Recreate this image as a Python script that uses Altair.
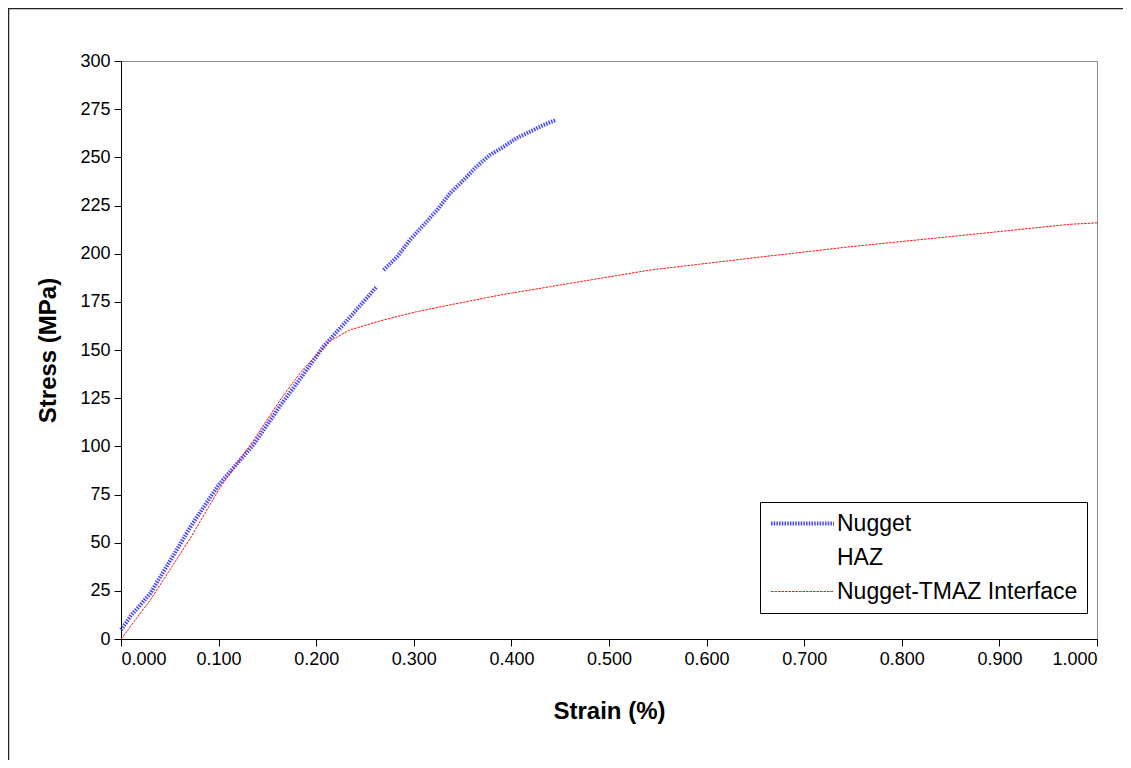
import altair as alt
import pandas as pd

series_names = ["Nugget", "HAZ", "Nugget-TMAZ Interface"]

# Nugget (two pieces, small gap near 0.265)
nugget_strain_a = [0.000, 0.010, 0.030, 0.057, 0.071, 0.100, 0.136, 0.163, 0.185, 0.207, 0.235, 0.262]
nugget_stress_a = [4.7, 12.0, 23.7, 46.2, 58.1, 80.0, 101.0, 121.0, 136.0, 151.5, 167.3, 182.9]
nugget_strain_b = [0.269, 0.283, 0.296, 0.310, 0.324, 0.337, 0.351, 0.364, 0.378, 0.392, 0.405, 0.419, 0.433, 0.446]
nugget_stress_b = [191.5, 198.4, 207.1, 214.9, 222.7, 231.3, 238.2, 245.1, 251.2, 255.5, 259.9, 263.3, 266.8, 269.4]

# Nugget-TMAZ Interface
tmaz_strain = [0.000, 0.030, 0.071, 0.101, 0.136, 0.163, 0.185, 0.202, 0.215, 0.235, 0.269, 0.303,
               0.337, 0.388, 0.440, 0.542, 0.644, 0.747, 0.849, 0.971, 1.000]
tmaz_stress = [0.0, 20.2, 52.3, 78.2, 103.3, 124.0, 139.0, 148.3, 155.0, 160.5, 165.6, 169.9,
               173.4, 178.5, 182.9, 191.5, 197.6, 203.6, 208.8, 215.2, 216.0]

x_ticks = [round(i * 0.1, 1) for i in range(11)]
y_ticks = list(range(0, 301, 25))

rows = []
for s, v in zip(nugget_strain_a, nugget_stress_a):
    rows.append({"strain": s, "stress": v, "series": "Nugget", "seg": "n1"})
for s, v in zip(nugget_strain_b, nugget_stress_b):
    rows.append({"strain": s, "stress": v, "series": "Nugget", "seg": "n2"})
for s, v in zip(tmaz_strain, tmaz_stress):
    rows.append({"strain": s, "stress": v, "series": "Nugget-TMAZ Interface", "seg": "t1"})
df = pd.DataFrame(rows)

FONT = "Liberation Sans"

lines = alt.Chart(df).mark_line(strokeCap="butt").encode(
    x=alt.X("strain:Q", scale=alt.Scale(domain=[0, 1], nice=False),
            axis=alt.Axis(values=x_ticks, format=".3f", title="Strain (%)",
                          titlePadding=31)),
    y=alt.Y("stress:Q", scale=alt.Scale(domain=[0, 300], nice=False),
            axis=alt.Axis(values=y_ticks, title="Stress (MPa)", titlePadding=19)),
    color=alt.Color("series:N",
                    scale=alt.Scale(domain=series_names,
                                    range=["#4646ff", "transparent", "#ff1010"]),
                    legend=alt.Legend(title=None)),
    strokeDash=alt.StrokeDash("series:N",
                              scale=alt.Scale(domain=series_names,
                                              range=[[1.5, 1.2], [1, 0], [2.5, 1]]),
                              legend=alt.Legend(title=None)),
    strokeWidth=alt.StrokeWidth("series:N",
                                scale=alt.Scale(domain=series_names, range=[4, 1, 2.6]),
                                legend=alt.Legend(title=None)),
    detail="seg:N",
)

border = alt.Chart(alt.Data(values=[{}])).mark_rect(
    fillOpacity=0, stroke="#222222", strokeWidth=1.5
).encode(
    x=alt.value(-112.5), x2=alt.value(1030),
    y=alt.value(-52.5), y2=alt.value(760),
)

chart = alt.layer(border, lines).properties(
    width=976, height=578,
    autosize=alt.AutoSizeParams(type="none"),
    padding={"left": 113, "top": 53, "right": 26, "bottom": 121},
).configure_view(
    stroke="#8a8a8a", strokeWidth=1
).configure_axis(
    grid=False,
    domainColor="#000000", domainWidth=1,
    tickColor="#000000", tickSize=7, tickWidth=1,
    labelFont=FONT, labelFontSize=18, labelColor="#000000", labelPadding=4,
    titleFont=FONT, titleFontSize=24, titleFontWeight="bold", titleColor="#000000",
).configure_legend(
    orient="none", legendX=639, legendY=441,
    strokeColor="#000000", fillColor="#ffffff", padding=9,
    labelFont=FONT, labelFontSize=23, labelColor="#000000", labelOffset=43,
    symbolType="M-1,0H5", symbolSize=441, rowPadding=10, labelLimit=400,
)

chart.save("out.html", embed_options={"renderer": "svg", "actions": False})
